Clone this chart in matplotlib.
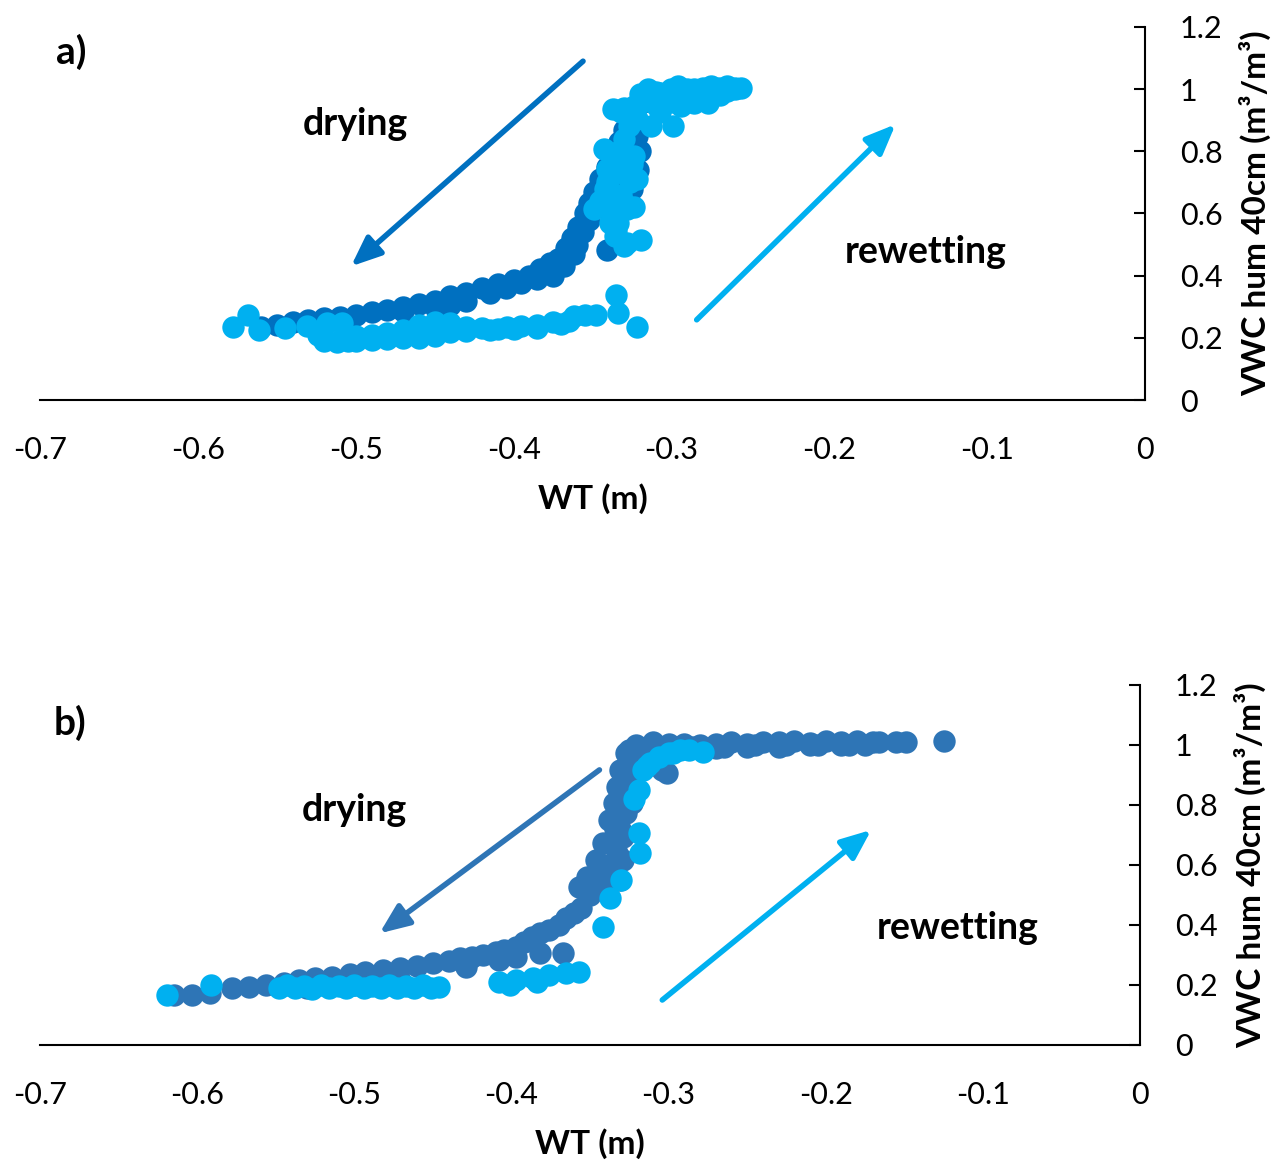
import matplotlib.pyplot as plt

plt.rcParams['font.family'] = ['Lato', 'DejaVu Sans']
plt.rcParams['axes.unicode_minus'] = False

DARK_A = "#0070C0"
DARK_B = "#2E75B6"
LIGHT = "#00B0F0"

x_ticks = [-0.7, -0.6, -0.5, -0.4, -0.3, -0.2, -0.1, 0]
x_tick_labels = ["-0.7", "-0.6", "-0.5", "-0.4", "-0.3", "-0.2", "-0.1", "0"]
y_ticks = [0, 0.2, 0.4, 0.6, 0.8, 1.0, 1.2]
y_tick_labels = ["0", "0.2", "0.4", "0.6", "0.8", "1", "1.2"]

# panel a) drying, main curve
dry_a_x = [-0.56, -0.55, -0.54, -0.53, -0.52, -0.51, -0.50, -0.49, -0.48, -0.47,
           -0.46, -0.45, -0.44, -0.43, -0.42, -0.41, -0.40, -0.39, -0.383, -0.377,
           -0.372, -0.367, -0.363, -0.359, -0.355, -0.352, -0.349, -0.345, -0.341, -0.337,
           -0.333, -0.33, -0.327, -0.323, -0.318, -0.31, -0.30, -0.29, -0.28, -0.27]
dry_a_y = [0.235, 0.242, 0.25, 0.258, 0.263, 0.268, 0.274, 0.283, 0.29, 0.298,
           0.308, 0.318, 0.333, 0.345, 0.36, 0.372, 0.385, 0.40, 0.42, 0.44,
           0.455, 0.49, 0.52, 0.555, 0.60, 0.635, 0.67, 0.71, 0.75, 0.79,
           0.83, 0.87, 0.90, 0.93, 0.96, 0.98, 0.99, 0.995, 1.0, 1.0]
# panel a) drying, second row of points
dry_a2_x = [-0.47, -0.45, -0.44, -0.43, -0.415, -0.405, -0.395, -0.385, -0.375,
            -0.368, -0.362, -0.341, -0.336, -0.33, -0.325, -0.321, -0.32, -0.322,
            -0.36, -0.356, -0.352, -0.347, -0.343, -0.338, -0.334, -0.33, -0.326]
dry_a2_y = [0.285, 0.298, 0.306, 0.32, 0.345, 0.36, 0.376, 0.39, 0.40,
            0.43, 0.47, 0.484, 0.56, 0.62, 0.68, 0.74, 0.80, 0.85,
            0.50, 0.54, 0.58, 0.62, 0.66, 0.70, 0.74, 0.78, 0.82]

# panel a) rewetting, low branch
wet_a_low_x = [-0.578, -0.568, -0.561, -0.545, -0.531, -0.518, -0.509, -0.524, -0.52, -0.512,
               -0.505, -0.50, -0.49, -0.48, -0.47, -0.46, -0.45, -0.44, -0.50, -0.49,
               -0.48, -0.47, -0.46, -0.45, -0.44, -0.43, -0.42, -0.41, -0.404, -0.395,
               -0.385, -0.375, -0.365, -0.362, -0.355, -0.348, -0.43, -0.415, -0.40, -0.385,
               -0.37, -0.335, -0.334, -0.322]
wet_a_low_y = [0.235, 0.275, 0.225, 0.231, 0.237, 0.247, 0.247, 0.21, 0.19, 0.188,
               0.19, 0.19, 0.192, 0.195, 0.198, 0.20, 0.205, 0.22, 0.205, 0.21,
               0.215, 0.225, 0.24, 0.25, 0.247, 0.235, 0.232, 0.23, 0.235, 0.238,
               0.242, 0.25, 0.255, 0.27, 0.272, 0.275, 0.222, 0.225, 0.228, 0.232,
               0.245, 0.339, 0.28, 0.236]
# panel a) rewetting, steep part and plateau
wet_a_up_x = [-0.33, -0.319, -0.339, -0.343, -0.332, -0.324, -0.322, -0.339, -0.349, -0.33,
              -0.328, -0.334, -0.336, -0.328, -0.341, -0.328, -0.341, -0.332, -0.322, -0.313,
              -0.299, -0.307, -0.286, -0.318, -0.307, -0.296, -0.275, -0.256, -0.269, -0.277,
              -0.324, -0.294, -0.286, -0.265, -0.315, -0.26, -0.28, -0.29, -0.30, -0.31]
wet_a_up_y = [0.495, 0.516, 0.57, 0.806, 0.763, 0.785, 0.71, 0.656, 0.613, 0.635,
              0.613, 0.57, 0.527, 0.505, 0.742, 0.742, 0.70, 0.925, 0.903, 0.882,
              0.882, 0.925, 0.957, 0.968, 0.989, 1.011, 1.011, 1.005, 0.98, 0.957,
              0.946, 0.946, 1.0, 1.011, 1.0, 1.0, 0.99, 0.975, 0.96, 0.95]
# panel a) rewetting, extra points filling the upper cluster
wet_a_fill_x = [-0.345, -0.342, -0.338, -0.335, -0.333, -0.33, -0.327, -0.338, -0.332, -0.326,
                -0.325, -0.335, -0.324, -0.32, -0.31, -0.30, -0.29, -0.28, -0.27, -0.26,
                -0.30, -0.29, -0.31, -0.32, -0.33, -0.337, -0.285, -0.275, -0.265]
wet_a_fill_y = [0.64, 0.68, 0.72, 0.76, 0.80, 0.84, 0.88, 0.60, 0.66, 0.70,
                0.76, 0.545, 0.62, 0.985, 0.99, 1.0, 1.0, 1.005, 1.005, 1.005,
                0.975, 0.965, 0.965, 0.955, 0.94, 0.935, 0.985, 0.99, 0.995]

# panel b) drying, low branch
dry_b_low_x = [-0.615, -0.603, -0.592, -0.578, -0.567, -0.556, -0.545, -0.535, -0.525, -0.514,
               -0.503, -0.493, -0.482, -0.471, -0.46, -0.45, -0.44, -0.433, -0.425, -0.418,
               -0.41, -0.405, -0.397, -0.392, -0.387, -0.382, -0.376, -0.37, -0.365, -0.36,
               -0.356, -0.367, -0.382, -0.397, -0.408, -0.429, -0.53, -0.50, -0.47]
dry_b_low_y = [0.167, 0.167, 0.173, 0.19, 0.193, 0.2, 0.208, 0.217, 0.222, 0.228,
               0.236, 0.244, 0.25, 0.256, 0.264, 0.272, 0.28, 0.289, 0.294, 0.30,
               0.31, 0.317, 0.328, 0.345, 0.361, 0.372, 0.383, 0.40, 0.422, 0.44,
               0.456, 0.306, 0.306, 0.294, 0.283, 0.261, 0.19, 0.2, 0.21]
# panel b) drying, steep part and plateau
dry_b_up_x = [-0.357, -0.352, -0.346, -0.342, -0.338, -0.335, -0.333, -0.331, -0.327, -0.321,
              -0.331, -0.329, -0.329, -0.327, -0.323, -0.323, -0.325, -0.304, -0.301, -0.31,
              -0.30, -0.29, -0.28, -0.27, -0.26, -0.25, -0.24, -0.23, -0.22, -0.21,
              -0.20, -0.19, -0.18, -0.17, -0.29, -0.27, -0.25, -0.23, -0.21, -0.19,
              -0.175, -0.166, -0.155, -0.149, -0.125, -0.35, -0.344, -0.34]
dry_b_up_y = [0.528, 0.561, 0.617, 0.672, 0.75, 0.806, 0.861, 0.917, 0.972, 1.0,
              0.55, 0.617, 0.694, 0.772, 0.806, 0.928, 0.983, 0.917, 0.906, 1.011,
              1.005, 1.005, 1.0, 1.005, 1.01, 1.005, 1.01, 1.01, 1.012, 1.008,
              1.012, 1.01, 1.012, 1.01, 0.99, 0.99, 0.995, 0.995, 1.0, 1.0,
              1.0, 1.01, 1.011, 1.011, 1.013, 0.5, 0.52, 0.53]
# panel b) drying, extra points filling the steep band
dry_b_fill_x = [-0.348, -0.34, -0.334, -0.345, -0.338, -0.333, -0.336, -0.331, -0.334, -0.33,
                -0.328, -0.326, -0.325, -0.322, -0.318, -0.314, -0.285, -0.265, -0.245, -0.225,
                -0.205, -0.185]
dry_b_fill_y = [0.53, 0.54, 0.56, 0.58, 0.60, 0.64, 0.68, 0.72, 0.72, 0.78,
                0.84, 0.88, 0.94, 0.96, 0.985, 0.99, 0.995, 0.995, 1.0, 1.0,
                1.0, 1.0]

# panel b) rewetting
wet_b_low_x = [-0.619, -0.591, -0.548, -0.543, -0.538, -0.532, -0.527, -0.521, -0.516, -0.51,
               -0.505, -0.5, -0.494, -0.489, -0.483, -0.478, -0.473, -0.467, -0.462, -0.456,
               -0.451, -0.446, -0.408, -0.401, -0.397, -0.386, -0.384, -0.376, -0.365, -0.357]
wet_b_low_y = [0.167, 0.2, 0.189, 0.2, 0.19, 0.198, 0.188, 0.2, 0.19, 0.198,
               0.19, 0.2, 0.19, 0.198, 0.19, 0.2, 0.19, 0.198, 0.19, 0.2,
               0.19, 0.195, 0.211, 0.2, 0.217, 0.222, 0.211, 0.233, 0.239, 0.244]
wet_b_up_x = [-0.342, -0.337, -0.33, -0.318, -0.319, -0.319, -0.316, -0.312, -0.306, -0.3,
              -0.297, -0.293, -0.287, -0.278, -0.314, -0.322]
wet_b_up_y = [0.394, 0.489, 0.55, 0.639, 0.706, 0.85, 0.917, 0.94, 0.961, 0.972,
              0.972, 0.983, 0.983, 0.978, 0.93, 0.82]

MS = 260

fig = plt.figure(figsize=(12.77, 11.62), dpi=100)
ax_a = fig.add_axes([40 / 1277, 1 - 400 / 1162, 1105 / 1277, 373 / 1162])
ax_b = fig.add_axes([40 / 1277, 1 - 1045 / 1162, 1100 / 1277, 360 / 1162])


def style(ax):
    ax.set_xlim(-0.7, 0)
    ax.set_ylim(0, 1.2)
    ax.spines['top'].set_visible(False)
    ax.spines['left'].set_visible(False)
    ax.spines['bottom'].set_linewidth(1.5)
    ax.spines['right'].set_linewidth(1.5)
    ax.yaxis.tick_right()
    ax.yaxis.set_label_position('right')
    ax.set_xticks(x_ticks)
    ax.set_xticklabels(x_tick_labels)
    ax.set_yticks(y_ticks)
    ax.set_yticklabels(y_tick_labels)
    ax.tick_params(axis='x', length=0, pad=26, labelsize=22)
    ax.tick_params(axis='y', direction='in', length=8, width=1.5, pad=25, labelsize=22)
    ax.set_xlabel("WT (m)", fontsize=24, fontweight='bold', labelpad=14)
    ax.set_ylabel("VWC hum 40cm (m³/m³)", fontsize=24, fontweight='bold', labelpad=12)


def arrow(ax, start, end, color):
    ax.annotate("", xy=end, xytext=start,
                arrowprops=dict(arrowstyle="-|>,head_length=0.6,head_width=0.25",
                                lw=4, color=color, mutation_scale=30,
                                shrinkA=0, shrinkB=0))


# panel a
ax_a.scatter(dry_a_x, dry_a_y, s=MS, c=DARK_A, linewidths=0, zorder=2)
ax_a.scatter(dry_a2_x, dry_a2_y, s=MS, c=DARK_A, linewidths=0, zorder=2)
ax_a.scatter(wet_a_low_x, wet_a_low_y, s=MS, c=LIGHT, linewidths=0, zorder=3)
ax_a.scatter(wet_a_up_x, wet_a_up_y, s=MS, c=LIGHT, linewidths=0, zorder=3)
ax_a.scatter(wet_a_fill_x, wet_a_fill_y, s=MS, c=LIGHT, linewidths=0, zorder=3)
style(ax_a)
arrow(ax_a, (-0.356, 1.09), (-0.503, 0.43), DARK_A)
arrow(ax_a, (-0.284, 0.258), (-0.158, 0.887), LIGHT)
ax_a.text(-0.5, 0.887, "drying", fontsize=27, fontweight='bold', ha='center', va='center')
ax_a.text(-0.139, 0.477, "rewetting", fontsize=27, fontweight='bold', ha='center', va='center')
ax_a.text(-0.68, 1.12, "a)", fontsize=28, fontweight='bold', ha='center', va='center')

# panel b
ax_b.scatter(dry_b_low_x, dry_b_low_y, s=MS, c=DARK_B, linewidths=0, zorder=2)
ax_b.scatter(dry_b_up_x, dry_b_up_y, s=MS, c=DARK_B, linewidths=0, zorder=2)
ax_b.scatter(dry_b_fill_x, dry_b_fill_y, s=MS, c=DARK_B, linewidths=0, zorder=2)
ax_b.scatter(wet_b_low_x, wet_b_low_y, s=MS, c=LIGHT, linewidths=0, zorder=3)
ax_b.scatter(wet_b_up_x, wet_b_up_y, s=MS, c=LIGHT, linewidths=0, zorder=3)
style(ax_b)
arrow(ax_b, (-0.344, 0.917), (-0.484, 0.372), DARK_B)
arrow(ax_b, (-0.304, 0.15), (-0.171, 0.717), LIGHT)
ax_b.text(-0.5, 0.783, "drying", fontsize=27, fontweight='bold', ha='center', va='center')
ax_b.text(-0.116, 0.39, "rewetting", fontsize=27, fontweight='bold', ha='center', va='center')
ax_b.text(-0.681, 1.073, "b)", fontsize=28, fontweight='bold', ha='center', va='center')

plt.savefig("out.png", dpi=100)
